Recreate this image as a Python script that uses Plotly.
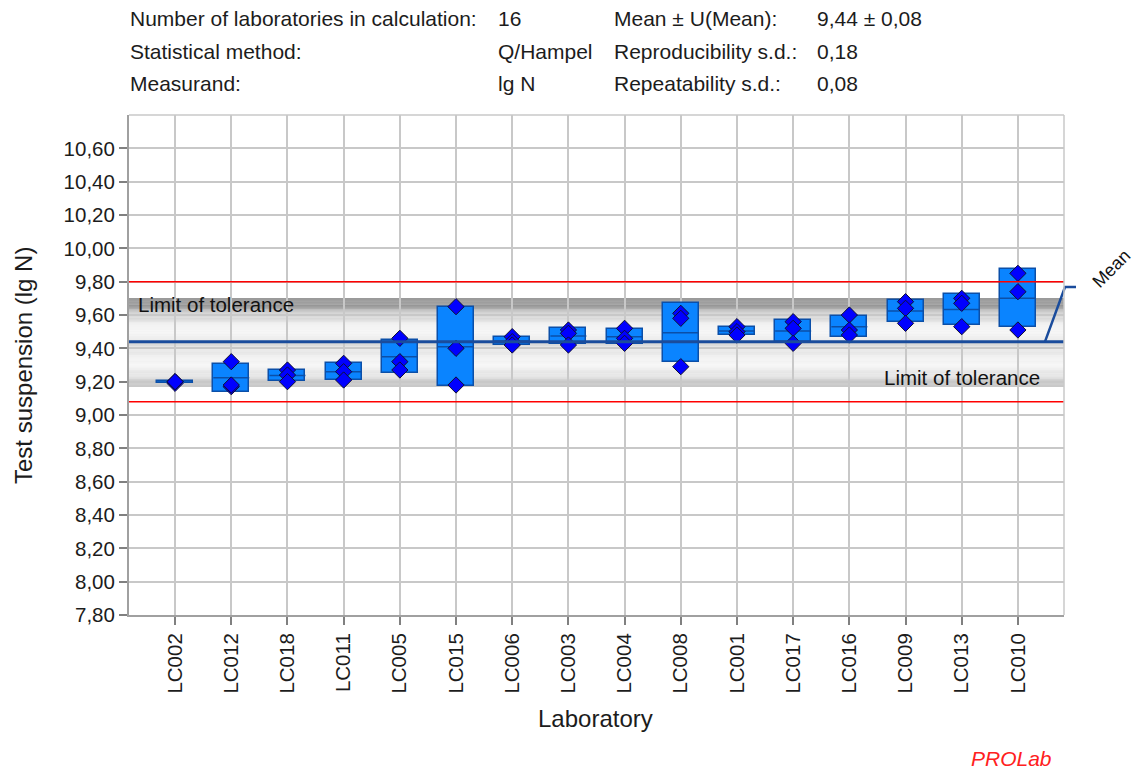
import numpy as np
import plotly.graph_objects as go

# ---------------- data ----------------
labs = ["LC002", "LC012", "LC018", "LC011", "LC005", "LC015", "LC006", "LC003",
        "LC004", "LC008", "LC001", "LC017", "LC016", "LC009", "LC013", "LC010"]
rep1 = [9.19, 9.32, 9.27, 9.31, 9.46, 9.65, 9.47, 9.51, 9.52, 9.61, 9.53, 9.56, 9.60, 9.68, 9.70, 9.85]
rep2 = [9.20, 9.17, 9.24, 9.26, 9.32, 9.40, 9.44, 9.49, 9.46, 9.58, 9.50, 9.52, 9.51, 9.64, 9.67, 9.74]
rep3 = [9.20, 9.18, 9.20, 9.21, 9.27, 9.18, 9.42, 9.42, 9.43, 9.29, 9.48, 9.43, 9.48, 9.55, 9.53, 9.51]

mean_value = 9.44
tolerance_upper = 9.70
tolerance_lower = 9.17
limit_upper = 9.80
limit_lower = 9.08

y_ticks = [7.8, 8.0, 8.2, 8.4, 8.6, 8.8, 9.0, 9.2, 9.4, 9.6, 9.8, 10.0, 10.2, 10.4, 10.6]
y_range = [7.8, 10.8]

header_left_labels = ["Number of laboratories in calculation:", "Statistical method:", "Measurand:"]
header_left_values = ["16", "Q/Hampel", "lg N"]
header_right_labels = ["Mean ± U(Mean):", "Reproducibility s.d.:", "Repeatability s.d.:"]
header_right_values = ["9,44 ± 0,08", "0,18", "0,08"]

# ---------------- derived ----------------
x_idx = np.arange(len(labs))
reps = np.array([rep1, rep2, rep3])
means = reps.mean(axis=0)
sds = reps.std(axis=0, ddof=1)
x_range = [-0.82, len(labs) - 1 + 0.82]

FONT = "Liberation Sans, Arial, sans-serif"
W, H = 1140, 769
ML, MR, MT, MB = 129, 76, 115, 154
PW = W - ML - MR
PH = H - MT - MB


def px_x(px):
    return (px - ML) / PW


def px_y(py):
    return (H - MB - py) / PH


def val_to_paper(v):
    return (v - y_range[0]) / (y_range[1] - y_range[0])


fig = go.Figure()

# boxes: mean +/- s.d.
half_w = 0.32
fig.add_trace(go.Bar(
    x=x_idx, y=2 * sds, base=means - sds, width=2 * half_w,
    marker=dict(color="#0A84FF", line=dict(color="#0B4FA8", width=1.5)),
    hoverinfo="skip", showlegend=False,
))

# mean segment inside each box
seg_x, seg_y = [], []
for i, m in zip(x_idx, means):
    seg_x += [i - half_w, i + half_w, None]
    seg_y += [m, m, None]
fig.add_trace(go.Scatter(x=seg_x, y=seg_y, mode="lines",
                         line=dict(color="#0B4FA8", width=1.5),
                         hoverinfo="skip", showlegend=False))

# replicate diamonds
fig.add_trace(go.Scatter(
    x=np.tile(x_idx, reps.shape[0]), y=reps.flatten(), mode="markers",
    marker=dict(symbol="diamond", size=12.5, color="#0000FF",
                line=dict(color="#101030", width=1)),
    hoverinfo="skip", showlegend=False,
))

shapes = []


def interp_gray(t, stops):
    ts = [s[0] for s in stops]
    gs = [s[1] for s in stops]
    g = int(round(np.interp(t, ts, gs)))
    return f"rgb({g},{g},{g})"


# gradient tolerance band (thin strips, below the grid)
upper_stops = [(0.0, 118), (0.12, 140), (0.35, 200), (0.6, 238), (0.8, 246), (1.0, 226)]
lower_stops = [(0.0, 214), (0.25, 232), (0.5, 246), (0.78, 222), (1.0, 180)]
N = 40
for k in range(N):
    t0, t1 = k / N, (k + 1) / N
    y0 = tolerance_upper - (tolerance_upper - mean_value) * t0
    y1 = tolerance_upper - (tolerance_upper - mean_value) * t1
    shapes.append(dict(type="rect", xref="x", yref="y", x0=x_range[0], x1=x_range[1],
                       y0=y1, y1=y0,
                       fillcolor=interp_gray((t0 + t1) / 2, upper_stops),
                       line=dict(width=0), layer="below"))
for k in range(N):
    t0, t1 = k / N, (k + 1) / N
    y0 = mean_value - (mean_value - tolerance_lower) * t0
    y1 = mean_value - (mean_value - tolerance_lower) * t1
    shapes.append(dict(type="rect", xref="x", yref="y", x0=x_range[0], x1=x_range[1],
                       y0=y1, y1=y0,
                       fillcolor=interp_gray((t0 + t1) / 2, lower_stops),
                       line=dict(width=0), layer="below"))

# limit lines (red)
for v in (limit_upper, limit_lower):
    shapes.append(dict(type="line", xref="paper", yref="y", x0=0, x1=1, y0=v, y1=v,
                       line=dict(color="#FF0000", width=1.5)))

# mean line
shapes.append(dict(type="line", xref="paper", yref="y", x0=0, x1=1,
                   y0=mean_value, y1=mean_value,
                   line=dict(color="#1A4C9C", width=3)))

# leader line to "Mean" label
my = val_to_paper(mean_value)
ly = px_y(287)
shapes.append(dict(type="path", xref="paper", yref="paper",
                   path=f"M {px_x(1045)} {my} L {px_x(1065)} {ly} L {px_x(1076)} {ly}",
                   line=dict(color="#1A4C9C", width=2.5)))

# top and right border (lighter)
shapes.append(dict(type="line", xref="paper", yref="paper", x0=0, x1=1, y0=1, y1=1,
                   line=dict(color="#C8C8C8", width=1.5)))
shapes.append(dict(type="line", xref="paper", yref="paper", x0=1, x1=1, y0=0, y1=1,
                   line=dict(color="#C8C8C8", width=1.5)))

annotations = []
TXT = "#1c1c1c"
rows_py = [18, 51, 84]
for lab, val, lab2, val2, py in zip(header_left_labels, header_left_values,
                                    header_right_labels, header_right_values, rows_py):
    for txt, pxx in ((lab, 128), (val, 496), (lab2, 612), (val2, 815)):
        annotations.append(dict(text=txt, xref="paper", yref="paper", x=px_x(pxx), y=px_y(py),
                                xanchor="left", yanchor="middle", showarrow=False,
                                font=dict(size=21, color=TXT, family=FONT)))

annotations.append(dict(text="Limit of tolerance", xref="paper", yref="y", x=px_x(136),
                        y=tolerance_upper - 0.035, xanchor="left", yanchor="middle",
                        showarrow=False, font=dict(size=20.5, color="#111111", family=FONT)))
annotations.append(dict(text="Limit of tolerance", xref="paper", yref="y", x=px_x(1042),
                        y=tolerance_lower + 0.058, xanchor="right", yanchor="middle",
                        showarrow=False, font=dict(size=20.5, color="#111111", family=FONT)))
annotations.append(dict(text="Mean", xref="paper", yref="paper", x=px_x(1111), y=px_y(269),
                        xanchor="center", yanchor="middle", textangle=-45, showarrow=False,
                        font=dict(size=18, color="#111111", family=FONT)))

annotations.append(dict(text="Test suspension (lg N)", xref="paper", yref="paper",
                        x=px_x(23), y=px_y(366), textangle=-90, xanchor="center",
                        yanchor="middle", showarrow=False,
                        font=dict(size=24, color=TXT, family=FONT)))
annotations.append(dict(text="Laboratory", xref="paper", yref="paper",
                        x=px_x(595), y=px_y(718), xanchor="center", yanchor="middle",
                        showarrow=False, font=dict(size=24, color=TXT, family=FONT)))
annotations.append(dict(text="<i>PROLab</i>", xref="paper", yref="paper",
                        x=px_x(1054), y=px_y(758), xanchor="right", yanchor="middle",
                        showarrow=False, font=dict(size=21, color="#FF2020", family=FONT)))

fig.update_layout(
    width=W, height=H,
    margin=dict(l=ML, r=MR, t=MT, b=MB, pad=0),
    paper_bgcolor="white", plot_bgcolor="white",
    separators=",.",
    font=dict(family=FONT, size=20, color=TXT),
    shapes=shapes, annotations=annotations,
    showlegend=False, bargap=0,
    xaxis=dict(
        range=x_range,
        tickmode="array", tickvals=list(x_idx), ticktext=labs, tickangle=-90,
        showgrid=True, gridcolor="#C8C8C8", gridwidth=1.5,
        showline=True, linecolor="#A0A0A0", linewidth=2,
        ticks="outside", ticklen=8, tickcolor="#808080", tickwidth=1.5,
        tickfont=dict(size=20.5, color=TXT, family=FONT),
        zeroline=False, fixedrange=True,
    ),
    yaxis=dict(
        range=y_range,
        tickmode="array", tickvals=y_ticks, tickformat=".2f",
        showgrid=True, gridcolor="#C8C8C8", gridwidth=1.5,
        showline=True, linecolor="#A0A0A0", linewidth=2,
        ticks="outside", ticklen=8, tickcolor="#808080", tickwidth=1.5,
        tickfont=dict(size=20.5, color=TXT, family=FONT),
        zeroline=False, fixedrange=True,
    ),
)

fig.write_html("out.html", config={"displayModeBar": False})
